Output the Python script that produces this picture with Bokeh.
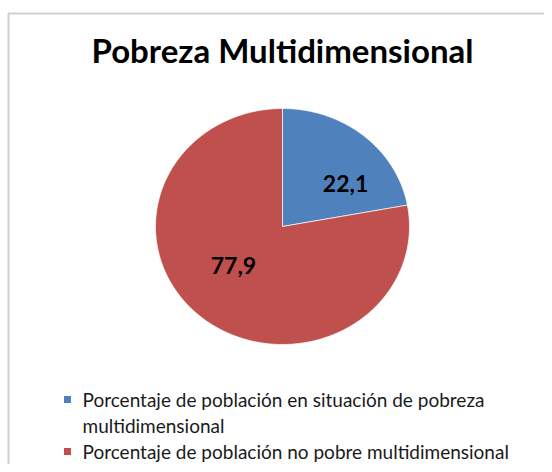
import numpy as np
from bokeh.plotting import figure
from bokeh.models import Range1d, BoxAnnotation
from bokeh.core.properties import value
from bokeh.embed import file_html
from bokeh.resources import INLINE

# ---- data ----
title = "Pobreza Multidimensional"
categories = [
    "Porcentaje de población en situación de pobreza\nmultidimensional",
    "Porcentaje de población no pobre multidimensional",
]
values = [22.1, 77.9]
colors = ["#4F81BD", "#C0504D"]

# ---- layout constants ----
W, H = 544, 464
cx, cy = 282, 226      # pie centre (flipped y: downwards)
rx, ry = 127, 118      # slightly elliptical pie
FONT = "Lato"

p = figure(width=W, height=H, output_backend="svg", toolbar_location=None,
           x_range=Range1d(0, W), y_range=Range1d(H, 0),
           x_axis_location=None, y_axis_location=None, min_border=0)
p.grid.visible = False
p.outline_line_color = None
p.background_fill_color = "white"
p.border_fill_color = "white"

# chart frame (left and top visible)
p.add_layout(BoxAnnotation(left=8, right=W + 200, top=13, bottom=H + 200,
                           fill_alpha=0, line_color="#5f5f5f", line_width=2))

# ---- pie slices (clockwise from 12 o'clock) ----
vals = np.array(values, dtype=float)
fr = vals / vals.sum()
ends = np.cumsum(fr) * 2 * np.pi
starts = ends - fr * 2 * np.pi
xs, ys = [], []
for a0, a1 in zip(starts, ends):
    t = np.linspace(a0, a1, 200)
    xs.append(np.concatenate([[cx], cx + rx * np.sin(t)]).tolist())
    ys.append(np.concatenate([[cy], cy - ry * np.cos(t)]).tolist())
p.patches(xs, ys, fill_color=colors, line_color="white", line_width=1, line_alpha=0.7)

# ---- data labels ----
mid = (starts + ends) / 2
lx = cx + 7 + 0.69 * rx * np.sin(mid)
ly = cy - 2 - 0.45 * ry * np.cos(mid)
lbl = [f"{v:.1f}".replace(".", ",") for v in values]
p.text(lx, ly, text=lbl, text_font=value(FONT), text_font_style="bold",
       text_font_size="23px", text_color="black",
       text_align="center", text_baseline="middle")

# ---- title ----
p.text([cx], [49], text=[title], text_font=value(FONT), text_font_style="bold",
       text_font_size="33px", text_color="black",
       text_align="center", text_baseline="middle")

# ---- legend ----
leg_y = [399, 451]
p.scatter([67, 67], leg_y, marker="square", size=7, fill_color=colors, line_color=None)
p.text([82, 82], [y - 12 for y in leg_y], text=categories, text_font=value(FONT),
       text_font_size="19px", text_color="#1a1a1a", text_line_height=1.16,
       text_align="left", text_baseline="top")

open("out.html", "w").write(file_html(p, INLINE))
